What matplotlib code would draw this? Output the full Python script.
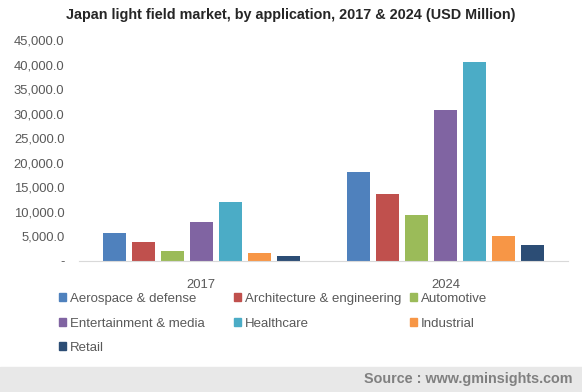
import numpy as np
import matplotlib.pyplot as plt
from matplotlib.patches import Patch, Rectangle
from matplotlib.ticker import FuncFormatter

plt.rcParams['font.family'] = ['Liberation Sans', 'DejaVu Sans']

years = ['2017', '2024']
apps = ['Aerospace & defense', 'Architecture & engineering', 'Automotive',
        'Entertainment & media', 'Healthcare', 'Industrial', 'Retail']
colors = ['#4f81bd', '#c0504d', '#9bbb59', '#8064a2', '#4bacc6', '#f79646', '#2c4d75']
values = {
    'Aerospace & defense':        [5800, 18100],
    'Architecture & engineering': [3900, 13650],
    'Automotive':                 [2100, 9350],
    'Entertainment & media':      [8000, 30750],
    'Healthcare':                 [12050, 40500],
    'Industrial':                 [1700, 5100],
    'Retail':                     [1100, 3250],
}

fig = plt.figure(figsize=(5.82, 3.92), dpi=100)
ax = fig.add_axes([79/582, 1-261/392, (568-79)/582, (261-40)/392])

x = np.arange(len(years))
pitch = 0.1186
w = 0.094
for i, a in enumerate(apps):
    ax.bar(x + (i - 3) * pitch, values[a], width=w, color=colors[i], label=a)

ax.set_xlim(-0.5, 1.5)
ax.set_ylim(0, 45000)
ax.set_yticks(np.arange(0, 45001, 5000))
ax.yaxis.set_major_formatter(FuncFormatter(lambda v, p: '-' if v == 0 else f'{v:,.1f}'))
ax.set_xticks(x)
ax.set_xticklabels(years)
for s in ['top', 'right', 'left']:
    ax.spines[s].set_visible(False)
ax.spines['bottom'].set_color('#d9d9d9')
ax.tick_params(axis='both', length=0, colors='#595959', labelsize=9.4)
ax.tick_params(axis='y', pad=10.5)
ax.tick_params(axis='x', pad=13)

fig.text(0.5, 1-15/392, 'Japan light field market, by application, 2017 & 2024 (USD Million)',
         ha='center', va='center', fontsize=10.4, fontweight='bold', color='#262626')

# legend, three columns
cols = [[0, 3, 6], [1, 4], [2, 5]]
col_x = [59, 234, 410]
for cx, idx in zip(col_x, cols):
    handles = [Patch(color=colors[i], label=apps[i]) for i in idx]
    fig.legend(handles=handles, loc='upper left', bbox_to_anchor=(cx/582, 1-293/392),
               frameon=False, fontsize=9.5, handlelength=0.55, handleheight=0.55,
               handletextpad=0.3, labelspacing=0.95, borderpad=0, borderaxespad=0,
               labelcolor='#595959')

fig.patches.append(Rectangle((0, 0), 1, 25/392, transform=fig.transFigure,
                             color='#e8e8e8', zorder=0))
fig.text(572/582, 1-379/392, 'Source : www.gminsights.com', ha='right', va='center',
         fontsize=10.4, fontweight='bold', color='#808080')

fig.savefig('out.png', dpi=100)
